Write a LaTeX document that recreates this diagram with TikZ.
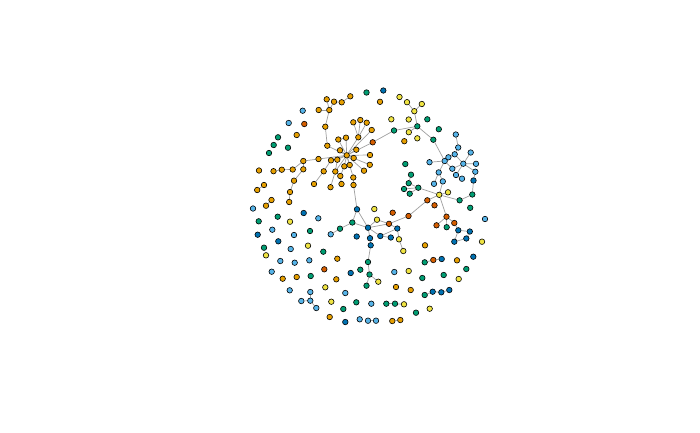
\documentclass[tikz,border=0pt]{standalone}
\usepackage{tikz}
\usetikzlibrary{backgrounds}
\definecolor{nodeorange}{RGB}{230,159,0}
\definecolor{nodesky}{RGB}{86,180,233}
\definecolor{nodegreen}{RGB}{0,158,115}
\definecolor{nodeyellow}{RGB}{240,228,66}
\definecolor{nodeblue}{RGB}{0,114,178}
\definecolor{nodered}{RGB}{213,94,0}
\definecolor{edgegray}{RGB}{160,160,160}
\tikzset{
  vtx/.style={circle, draw=black, line width=0.6pt, inner sep=0pt, minimum size=5.5pt},
  edge/.style={edgegray, line width=0.7pt}
}

\begin{document}
\begin{tikzpicture}[x=1pt, y=-1pt]
    % Orange vertices
    \foreach \n/\x/\y in {o1/326.7/99.3, o2/334/101.7, o3/341.7/102.3, o4/350.3/96.3, o5/318.7/110,
        o6/329.3/110, o7/325.3/126.7, o8/296.7/135, o9/353.3/122.3, o10/360.3/120, o11/366.7/122.7,
        o12/371.7/130, o13/346/137.7, o14/358.3/137.3, o15/338.3/139.5, o16/327.3/145.7, o17/340/150.3,
        o18/356.3/149.7, o19/370/155, o20/346.7/155.3, o21/353.7/158, o22/318.5/159, o23/331/160.3,
        o24/337.3/159.7, o25/303.3/161, o26/344.3/166.3, o27/349.7/165, o28/369.8/164.8, o29/364/170.7,
        o30/323.7/171.3, o31/335.3/171.5, o32/340.3/176, o33/353.3/177.5, o34/303.3/169.3, o35/292.7/169.5,
        o36/281.8/169.7, o37/273.5/171.2, o38/259/170.5, o39/294/180.7, o40/314/184, o41/330.5/187.2,
        o42/341.5/184, o43/353.5/185, o44/264/185, o45/257.2/190, o46/290/192, o47/271.5/200,
        o48/266/205.7, o49/289.2/202, o50/380/101.8, o52/404.3/141.2, o53/337.3/258.7, o54/282.7/278.7,
        o55/296.7/277, o56/336.3/279.3, o57/329.7/317, o58/425/245.3, o59/457/260.3, o60/396/287,
        o61/410.7/290, o62/392.3/321, o63/400.3/320}
        \node[vtx, fill=nodeorange] (\n) at (\x,\y) {};

    % Sky blue vertices
    \foreach \n/\x/\y in {s1/302.7/110.7, s2/288.7/123, s3/253/208.5, s4/318.3/218.3, s5/330.7/234.3,
        s6/272.3/229.7, s7/294/235, s8/290.7/249, s9/280.3/261, s10/294.7/262.7, s11/309.3/260.3,
        s12/271.7/271.7, s13/289.7/290.3, s14/310.3/292, s15/301.3/301, s16/310.3/300.7, s17/316.3/308,
        s18/345.3/293, s19/359.7/319.3, s20/368/320.7, s21/376/320.7, s22/371.3/303.7, s23/394.3/272,
        s24/485/219, s25/455.8/134.5, s26/458.2/147.5, s27/470.7/152.5, s28/429.5/162.2, s29/444.7/161,
        s30/448.4/157.3, s31/454.7/154.3, s32/463.3/163.7, s33/476/163.8, s34/452.3/168.7,
        s35/438.7/172.4, s36/475.3/171.7, s37/456/175, s38/462/178.7, s39/434/183.8, s40/442.8/181.4}
        \node[vtx, fill=nodesky] (\n) at (\x,\y) {};

    % Blue vertices
    \foreach \n/\x/\y in {b1/383.3/90.5, b2/357/209.3, b3/303.7/213, b4/257.7/234.7, b5/278.3/241.3,
        b6/356.7/236.5, b7/368/227.7, b8/380.3/236, b9/390.8/237.5, b10/397.3/228.5, b11/370/238.2,
        b12/370.7/245.3, b13/458.3/230.3, b14/469.8/231.5, b15/466.3/238.5, b16/454.3/241.7,
        b17/473.5/180.5, b18/441.7/259, b19/473.3/256.7, b20/432.7/291.7, b21/441.3/292.3,
        b22/449.3/290, b23/350.7/273, b24/345.3/322}
        \node[vtx, fill=nodeblue] (\n) at (\x,\y) {};

    % Green vertices
    \foreach \n/\x/\y in {g1/366.5/92.5, g2/278/137.3, g3/273.7/145, g4/288/147.7, g5/269/153,
        g6/427.3/119.3, g7/417.3/126.3, g8/394/130.5, g9/438.8/129.2, g10/433.3/139.7, g11/405.3/164,
        g12/411/174.7, g13/408.7/183.2, g14/404/189, g15/418.3/187.7, g16/409.7/193.7, g17/472.3/194.5,
        g18/459.6/200.3, g19/470.2/207.8, g20/446.7/227.2, g21/277.7/216.7, g22/258.7/221.3,
        g23/352.3/222.5, g24/340/228.7, g25/310/231, g26/264/247.7, g27/323.3/251.7, g28/368/262,
        g29/360.3/269.7, g30/369.5/274.5, g31/366.5/285.7, g32/310.7/276, g33/356.3/302.3,
        g34/343.3/309, g35/424.7/262.3, g36/466.3/269, g37/422.3/278, g38/443.7/275, g39/424.7/295,
        g40/386.3/303.7, g41/395/303.7, g42/416/312.7}
        \node[vtx, fill=nodegreen] (\n) at (\x,\y) {};

    % Yellow vertices
    \foreach \n/\x/\y in {y1/399.5/97, y2/407/102.2, y3/421.8/104, y4/414.3/111.2, y5/391.3/119.3,
        y6/408.7/119.5, y7/408.8/132.2, y8/417.3/138.3, y9/448/192.3, y10/439.2/194.8, y11/290/221.7,
        y12/308/245.7, y13/266/255.3, y14/325.3/287.3, y15/331.3/301.7, y16/374.3/209, y17/377/219.7,
        y18/399/239.3, y19/403.3/251, y20/482/241.7, y21/408.7/271, y22/458.7/279, y23/378.3/281.7,
        y24/404/304.3, y25/429.7/308.7}
        \node[vtx, fill=nodeyellow] (\n) at (\x,\y) {};

    % Vermilion vertices
    \foreach \n/\x/\y in {r1/304.3/124, r2/372.7/142.3, r3/427.3/200.3, r4/434.5/205.3, r5/408.5/216,
        r6/392.7/212.7, r7/389/223.8, r8/446.5/216.7, r9/454.3/223, r10/436.5/225.3, r11/324.3/269.3,
        r12/433.3/260}
        \node[vtx, fill=nodered] (\n) at (\x,\y) {};

    % Links, behind the vertices
    \begin{scope}[on background layer]
        \fill[white] (0,0) rectangle (700,432);
        \foreach \a/\b in {o1/o6, o2/o6, o5/o6, o2/o3, o3/o4, o6/o7, o7/o16, o16/o20,
            o9/o14, o10/o14, o11/o14, o14/o20, o12/o20, r2/o20, o13/o20, o15/o20, o17/o20, o18/o20,
            o19/o20, o21/o20, o22/o20, o23/o20, o24/o20, o26/o20, o27/o20, o28/o20, o29/o20, o31/o20,
            o33/o20, o15/o13, o23/o30, o30/o40, o24/o31, o32/o42, o32/o26, o33/o43, o31/o41,
            o22/o25, o25/o34, o25/o35, o35/o36, o36/o37, o34/o39, o39/o46, o46/o49, o44/o45, o47/o48,
            o43/b2, r2/g8, g8/g7, g7/y4, y4/y2, y4/y3, g7/y7, g7/g10, g10/s29,
            s29/s30, s30/s31, s31/s26, s26/s25, s31/s32, s32/s27, s32/s33, s32/s36, s32/s34, s32/s37,
            s34/s29, s29/s28, s29/s35, s35/s40, s35/s39, s37/s38, s36/b17, b17/g17, s40/y10, y10/y9,
            y10/r3, y10/r8, g15/y10, g13/g15, g14/g15, g16/g15, g12/g13, g17/g18, g18/y10,
            r8/r10, r8/g20, r8/r9, r9/b13, b13/b14, b14/b15, b15/b16, b13/b16,
            r3/r5, r5/r7, r7/b7, r7/y17, r7/b10, y17/b7, b2/b7, b2/g23, g23/b7, g23/g24, g24/s5,
            b7/b8, b7/b11, b8/b10, b8/b9, b10/y18, y18/y19, b11/b12, b12/g28, g28/g30, g30/y23, g30/g31,
            s14/s16, s15/s16, s16/s17, g35/r12, r12/b18, g40/g41, g41/y24, g39/b20, b20/b21, b21/b22,
            s20/s21, o62/o63}
            \draw[edge] (\a) -- (\b);
    \end{scope}
\end{tikzpicture}
\end{document}
